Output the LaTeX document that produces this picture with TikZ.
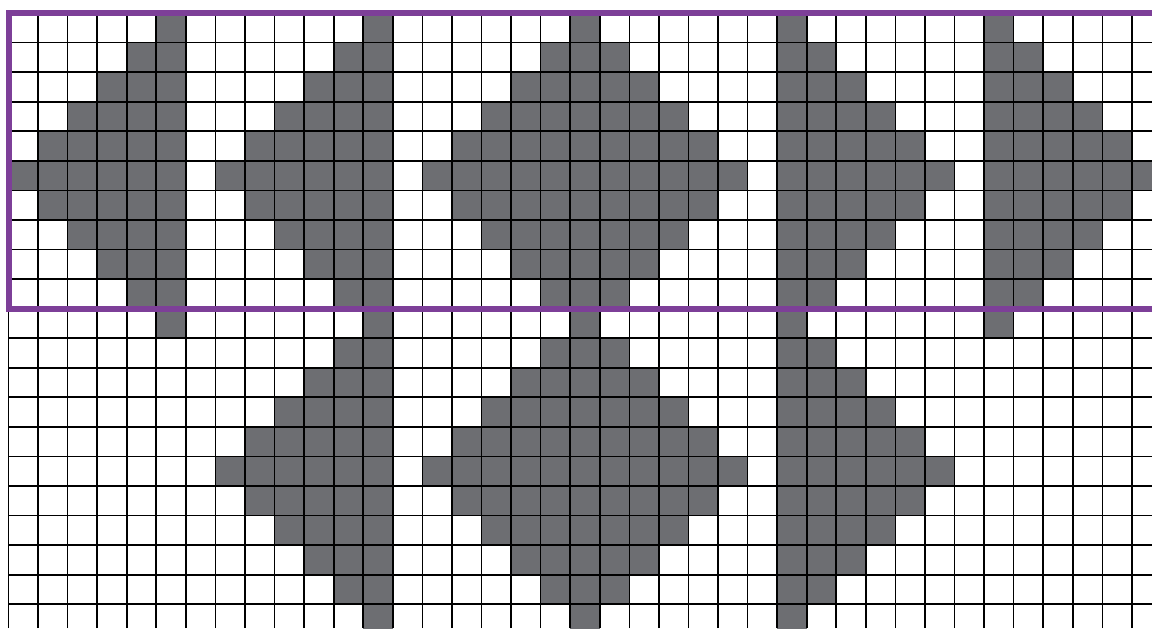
\documentclass[tikz,border=0pt]{standalone}
\definecolor{patterngrey}{RGB}{109,110,114}
\definecolor{bandpurple}{RGB}{125,63,152}
\begin{document}
\begin{tikzpicture}[x=0.5cm,y=0.5cm,
  shade/.style={fill=patterngrey},
  gridline/.style={line width=0.8pt,black},
  band/.style={line width=2.9pt,bandpurple}]
  \clip (-0.288,-20.805) rectangle (38.68,0.44);
  \fill[white] (-0.288,-20.805) rectangle (38.68,0.44);
  % motifs: column, centre row, grows left, grows right
  \foreach \c/\r/\a/\b in {5/5/1/0, 12/5/1/0, 19/5/1/1, 26/5/0/1, 33/5/0/1,
                           12/15/1/0, 19/15/1/1, 26/15/0/1}
    \foreach \d in {-5,...,5} {
      \pgfmathsetmacro\h{5-abs(\d)}
      \fill[shade] ({\c-\a*\h},{-\r-\d-1}) rectangle ({\c+1+\b*\h},{-\r-\d});
    }
  \draw[gridline,step=0.5cm] (0,-20.805) grid (38.68,0);
  \draw[band] (0,0) rectangle (40,-10);
\end{tikzpicture}
\end{document}
